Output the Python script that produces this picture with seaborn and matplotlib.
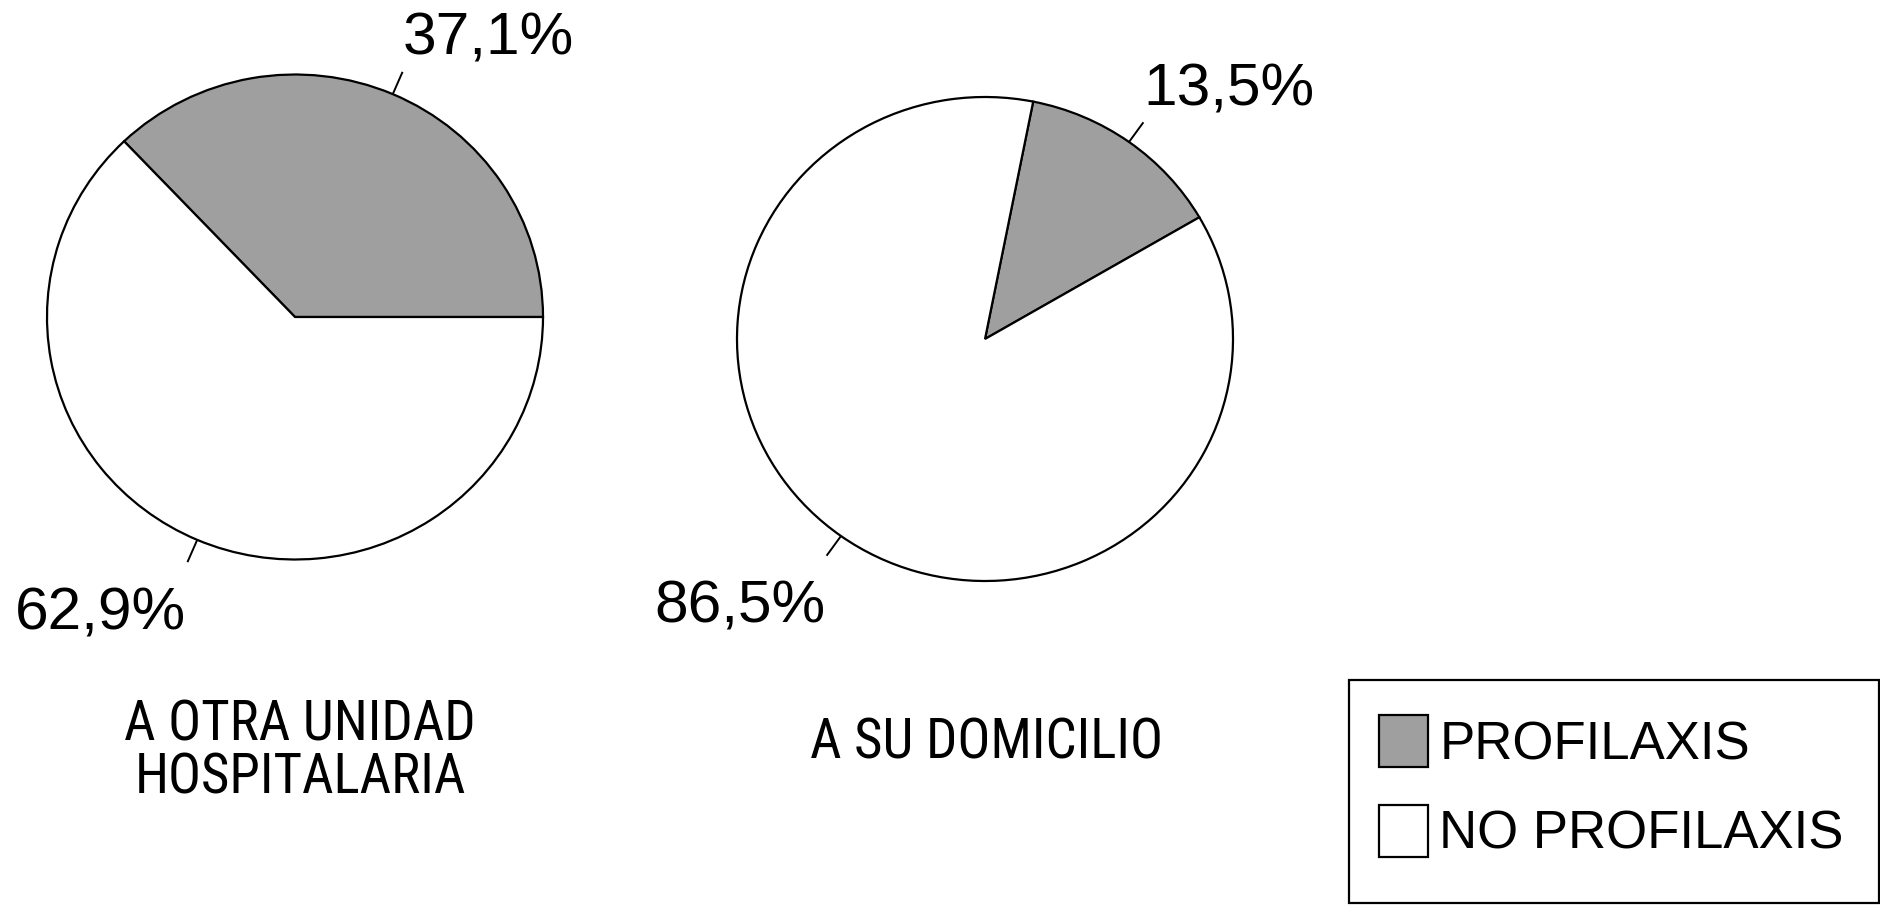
import matplotlib
matplotlib.use("Agg")
import matplotlib.pyplot as plt
from matplotlib import font_manager
from matplotlib.patches import Rectangle
import numpy as np
import pandas as pd
import seaborn as sns

# Data
groups = ["A OTRA UNIDAD\nHOSPITALARIA", "A SU DOMICILIO"]
series = ["PROFILAXIS", "NO PROFILAXIS"]
profilaxis = [37.1, 13.5]
no_profilaxis = [62.9, 86.5]

df = pd.DataFrame({"grupo": groups,
                   "PROFILAXIS": profilaxis,
                   "NO PROFILAXIS": no_profilaxis})

sns.set_theme(style="white")
plt.rcParams["font.family"] = ["Liberation Sans", "DejaVu Sans"]
plt.rcParams["text.color"] = "black"

W, H = 1880, 905
fig = plt.figure(figsize=(W / 100, H / 100), dpi=100)
fig.patch.set_facecolor("white")

colors = ["#9f9f9f", "#ffffff"]
# pie placement in pixels: centre x, centre y, radius x, radius y, start angle
layout = [(295, 317, 248, 242.5, 0.0), (985, 339, 248, 242, 30.2)]
pad = 1.15

# captions use a narrow sans face when one is available
installed = {f.name for f in font_manager.fontManager.ttflist}
cat_family, cat_size = ["Liberation Sans", "DejaVu Sans"], 33
for name in ("Liberation Sans Narrow", "Arial Narrow", "Nimbus Sans Narrow",
             "Roboto Condensed"):
    if name in installed:
        cat_family, cat_size = [name, "DejaVu Sans"], 39.5
        break

wedges_first = None
for i, (cx, cy, rx, ry, start) in enumerate(layout):
    ax = fig.add_axes([(cx - pad * rx) / W, 1 - (cy + pad * ry) / H,
                       2 * pad * rx / W, 2 * pad * ry / H])
    vals = df.loc[i, series].to_numpy(float)
    wedges, _ = ax.pie(vals, colors=colors, startangle=start, counterclock=True,
                       wedgeprops=dict(edgecolor="black", linewidth=1.6))
    if wedges_first is None:
        wedges_first = wedges
    ax.set_aspect("auto")
    ax.set_xlim(-pad, pad)
    ax.set_ylim(-pad, pad)
    ax.axis("off")

    theta = start
    for v in vals:
        mid = np.deg2rad(theta + v * 3.6 / 2)
        theta += v * 3.6
        c, s = np.cos(mid), np.sin(mid)
        ax.plot([c, 1.1 * c], [s, 1.1 * s], color="black", lw=1.4,
                solid_capstyle="butt", clip_on=False)
        top = s > 0
        ax.annotate(f"{v:.1f}".replace(".", ",") + "%",
                    xy=(1.1 * c, 1.1 * s),
                    xytext=(0, 17) if top else (-1, -67),
                    textcoords="offset pixels",
                    ha="left" if top else "right", va="baseline",
                    fontsize=43.5, color="black", annotation_clip=False)

# Group captions under each pie
label_pos = [(300, 751), (987, 743)]
for g, (x, y) in zip(groups, label_pos):
    fig.text(x / W, 1 - y / H, g, ha="center", va="center",
             multialignment="center", fontsize=cat_size, family=cat_family,
             linespacing=1.0, color="black")

# Legend with a plain rectangular border
fig.add_artist(Rectangle((1349 / W, 1 - 903 / H), 530 / W, 223 / H,
                         transform=fig.transFigure, facecolor="white",
                         edgecolor="black", linewidth=1.6, zorder=1))
leg = fig.legend(wedges_first, series, loc="upper left",
                 bbox_to_anchor=(1379 / W, 1 - 715 / H),
                 bbox_transform=fig.transFigure, borderaxespad=0,
                 frameon=False, fontsize=38, handlelength=0.92,
                 handleheight=1.15, handletextpad=0.22, labelspacing=0.66,
                 borderpad=0)
leg.set_zorder(2)
for t in leg.get_texts():
    t.set_color("black")

fig.savefig("out.png", dpi=100)
